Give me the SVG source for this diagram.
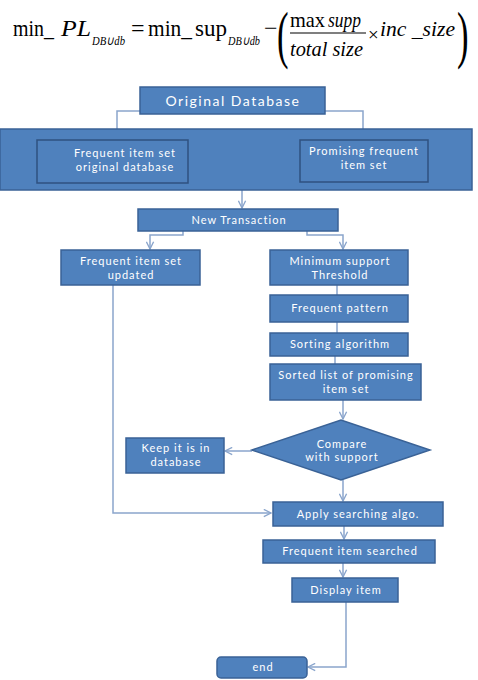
<svg xmlns="http://www.w3.org/2000/svg" width="478" height="680" viewBox="0 0 478 680">
<style>
.eq{font-family:"Liberation Serif","Times New Roman",serif;fill:#000}
.it{font-style:italic}
.box{fill:#4f81bd;stroke:#3a6296;stroke-width:1.5}
.inner{fill:#4f81bd;stroke:#2f5180;stroke-width:1.5}
.t{font-family:Lato,"Liberation Sans",sans-serif;fill:#fff;font-size:11px;letter-spacing:1px;text-anchor:middle}
.big{font-size:14px;letter-spacing:1.5px}
.c{fill:none;stroke:#8aa5cc;stroke-width:1.5}
</style>
<defs>
<marker id="a" viewBox="0 0 10 10" refX="9" refY="5" markerWidth="9" markerHeight="9" markerUnits="userSpaceOnUse" orient="auto">
<path d="M1,1 L9,5 L1,9" fill="none" stroke="#8aa5cc" stroke-width="1.5"/>
</marker>
</defs>
<rect width="478" height="680" fill="#fff"/>
<g id="equation" class="eq">
<text x="13" y="36" font-size="24" textLength="41" lengthAdjust="spacingAndGlyphs">min_</text>
<text x="61" y="36" font-size="24" class="it" textLength="30" lengthAdjust="spacingAndGlyphs">PL</text>
<text x="92" y="45" font-size="13" class="it" textLength="33" lengthAdjust="spacingAndGlyphs">DB∪db</text>
<text x="131" y="36" font-size="24">=</text>
<text x="148" y="36" font-size="24" textLength="44" lengthAdjust="spacingAndGlyphs">min_</text>
<text x="195" y="36" font-size="24" textLength="32" lengthAdjust="spacingAndGlyphs">sup</text>
<text x="228" y="45" font-size="13" class="it" textLength="32" lengthAdjust="spacingAndGlyphs">DB∪db</text>
<text x="264" y="36" font-size="24">−</text>
<text x="0" y="0" font-size="63" transform="translate(277,56) scale(0.55,1)">(</text>
<text x="290" y="27" font-size="22" textLength="35" lengthAdjust="spacingAndGlyphs">max</text>
<text x="328" y="27" font-size="22" class="it" textLength="33" lengthAdjust="spacingAndGlyphs">supp</text>
<line x1="290" y1="33" x2="366" y2="33" stroke="#000" stroke-width="1.2"/>
<text x="290" y="56" font-size="22" class="it" textLength="73" lengthAdjust="spacingAndGlyphs">total size</text>
<text x="368" y="41" font-size="19">×</text>
<text x="380" y="36" font-size="22" class="it" textLength="75" lengthAdjust="spacingAndGlyphs">inc _size</text>
<text x="0" y="0" font-size="63" transform="translate(457,56) scale(0.55,1)">)</text>
</g>
<g id="connectors">
<path class="c" d="M140,111 H117 V129"/>
<path class="c" d="M325,111 H363 V129"/>
<path class="c" d="M242,190 V208" marker-end="url(#a)"/>
<path class="c" d="M183,231 V235 H150 V249" marker-end="url(#a)"/>
<path class="c" d="M307,231 V235 H343 V249" marker-end="url(#a)"/>
<path class="c" d="M337,285 V295"/>
<path class="c" d="M337,322 V333"/>
<path class="c" d="M335,356 V364"/>
<path class="c" d="M343,400 V419" marker-end="url(#a)"/>
<path class="c" d="M252,451 H225" marker-end="url(#a)"/>
<path class="c" d="M343,480 V501" marker-end="url(#a)"/>
<path class="c" d="M113,285 V513 H271" marker-end="url(#a)"/>
<path class="c" d="M344,526 V539" marker-end="url(#a)"/>
<path class="c" d="M343,563 V577" marker-end="url(#a)"/>
<path class="c" d="M346,602 V667 H308" marker-end="url(#a)"/>
</g>
<g id="original-database">
<rect class="box" x="140" y="87" width="185" height="27"/>
<text class="t big" x="233" y="106">Original Database</text>
</g>
<g id="database-group">
<rect class="box" x="0" y="129" width="472" height="61"/>
</g>
<g id="frequent-item-set-original">
<rect class="inner" x="37" y="140" width="151" height="43"/>
<text class="t" x="125" y="157">Frequent item set</text>
<text class="t" x="125" y="171">original database</text>
</g>
<g id="promising-frequent">
<rect class="inner" x="300" y="140" width="128" height="42"/>
<text class="t" x="364" y="155">Promising frequent</text>
<text class="t" x="364" y="169">item set</text>
</g>
<g id="new-transaction">
<rect class="box" x="138" y="209" width="200" height="22"/>
<text class="t" x="239" y="224">New Transaction</text>
</g>
<g id="frequent-item-set-updated">
<rect class="box" x="61" y="250" width="139" height="35"/>
<text class="t" x="131" y="265">Frequent item set</text>
<text class="t" x="131" y="279">updated</text>
</g>
<g id="minimum-support">
<rect class="box" x="270" y="250" width="138" height="35"/>
<text class="t" x="340" y="265">Minimum support</text>
<text class="t" x="340" y="279">Threshold</text>
</g>
<g id="frequent-pattern">
<rect class="box" x="270" y="295" width="138" height="27"/>
<text class="t" x="340" y="312">Frequent pattern</text>
</g>
<g id="sorting-algorithm">
<rect class="box" x="270" y="333" width="138" height="23"/>
<text class="t" x="340" y="348">Sorting algorithm</text>
</g>
<g id="sorted-list">
<rect class="box" x="270" y="364" width="151" height="36"/>
<text class="t" x="346" y="379">Sorted list of promising</text>
<text class="t" x="346" y="393">item set</text>
</g>
<g id="compare">
<polygon class="box" points="252,450 341,420 430,450 341,480"/>
<text class="t" x="342" y="448">Compare</text>
<text class="t" x="342" y="461">with support</text>
</g>
<g id="keep-in-database">
<rect class="box" x="126" y="438" width="98" height="35"/>
<text class="t" x="176" y="452">Keep it is in</text>
<text class="t" x="176" y="466">database</text>
</g>
<g id="apply-searching">
<rect class="box" x="273" y="502" width="170" height="24"/>
<text class="t" x="358" y="518">Apply searching algo.</text>
</g>
<g id="frequent-item-searched">
<rect class="box" x="263" y="540" width="172" height="23"/>
<text class="t" x="350" y="555">Frequent item searched</text>
</g>
<g id="display-item">
<rect class="box" x="292" y="578" width="106" height="24" stroke="#1e2a40"/>
<text class="t" x="346" y="594">Display item</text>
</g>
<g id="end">
<rect class="box" x="217" y="657" width="90" height="21" rx="4"/>
<text class="t" x="263" y="671">end</text>
</g>
</svg>
